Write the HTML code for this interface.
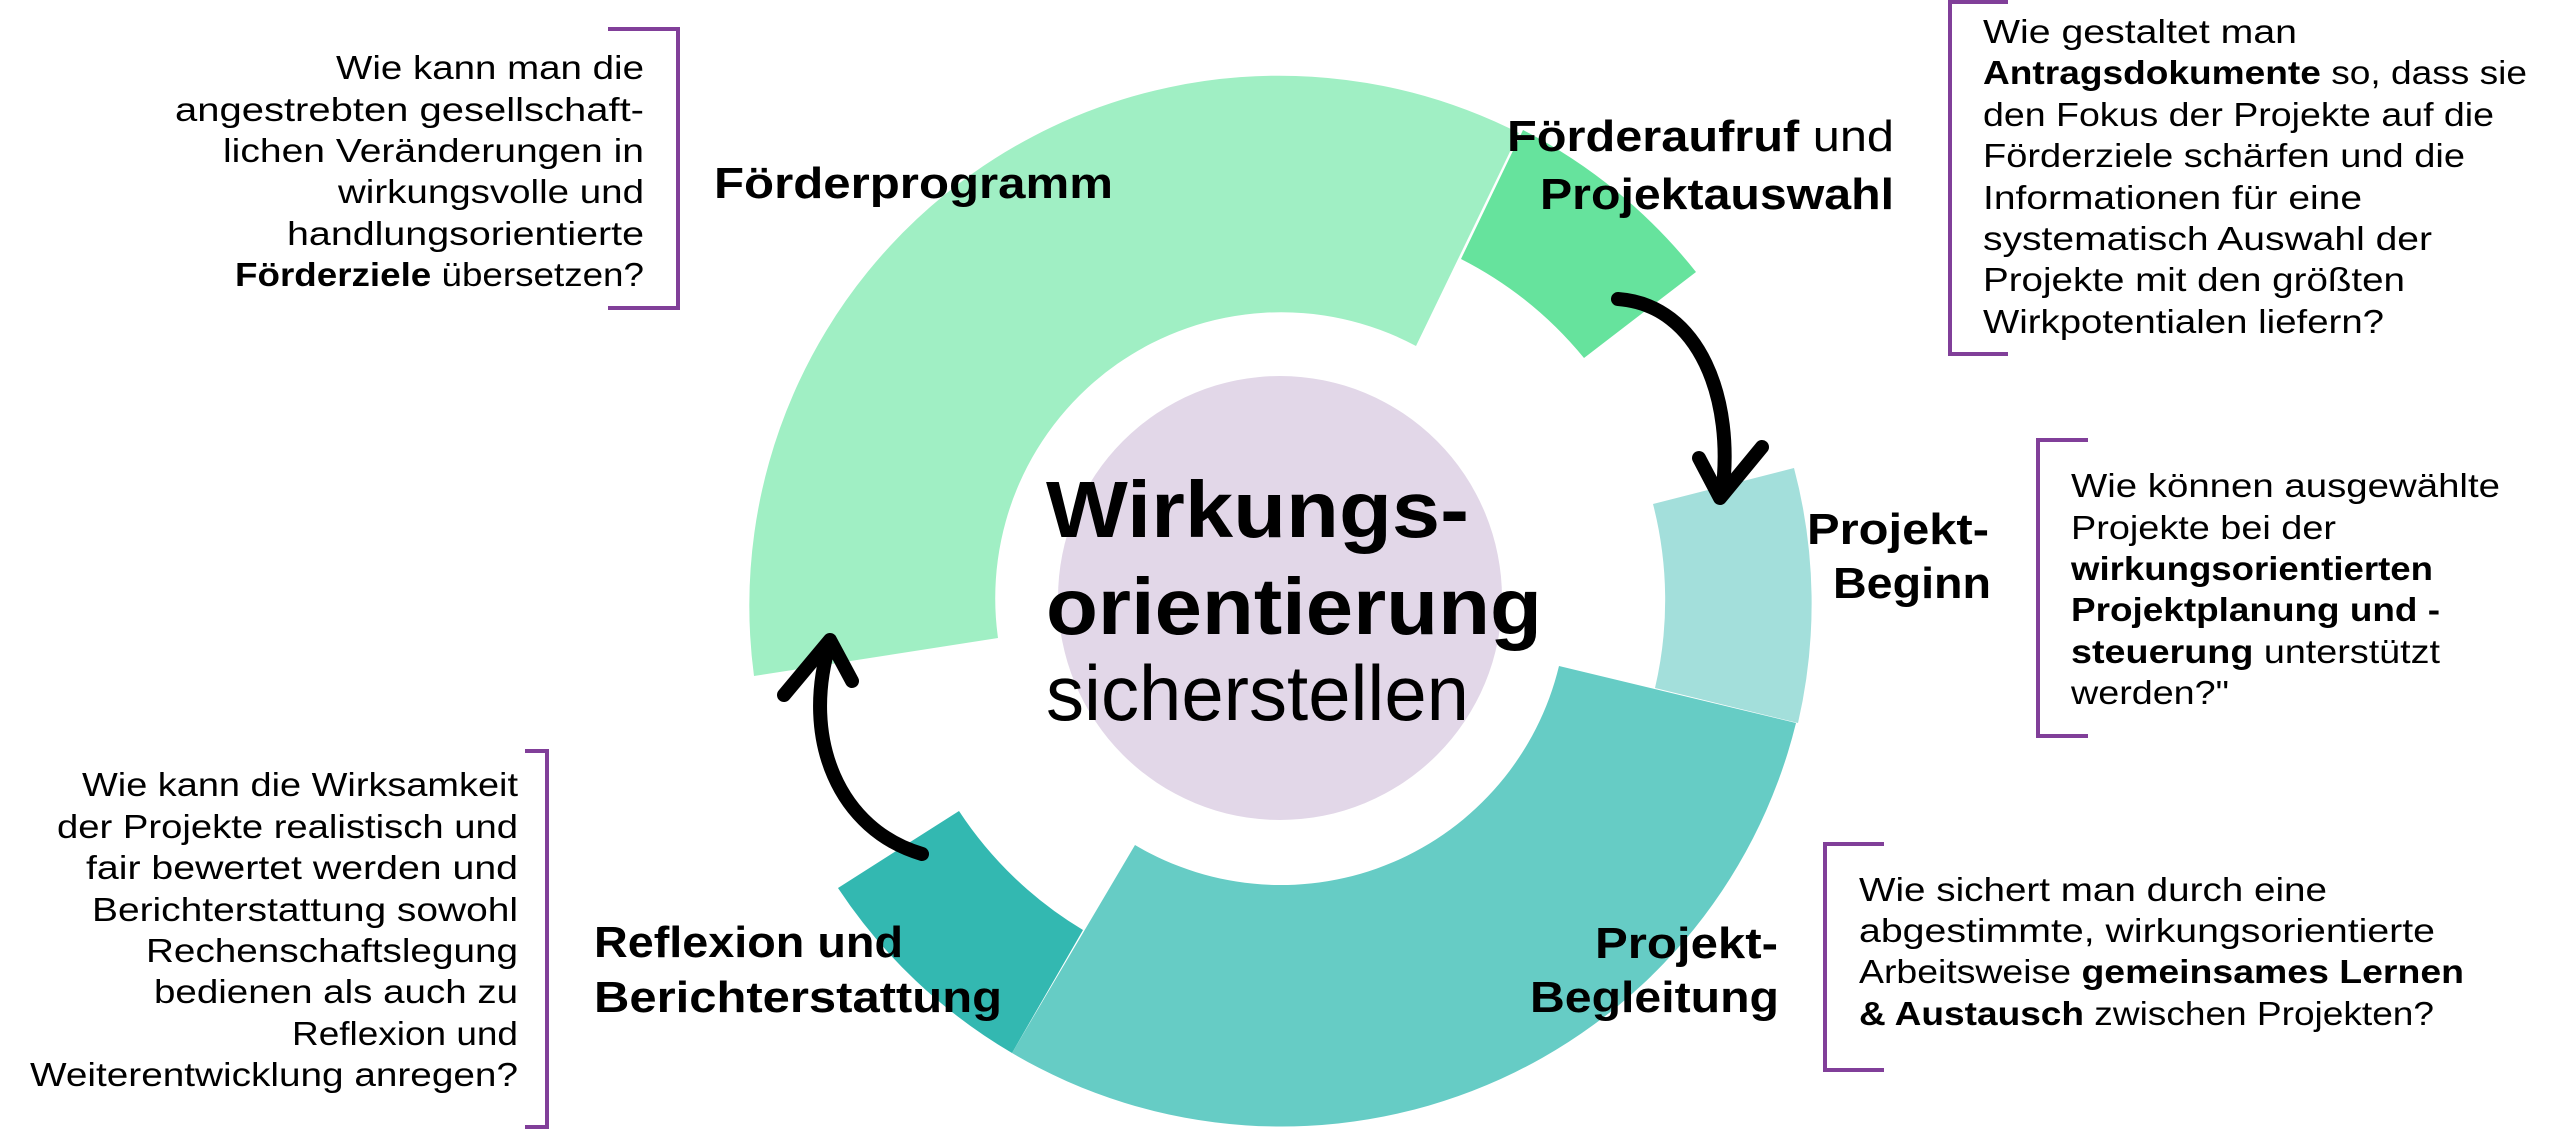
<!DOCTYPE html>
<html><head><meta charset="utf-8"><style>
html,body{margin:0;padding:0;background:#fff;}
svg{display:block;}
text{font-family:"Liberation Sans",sans-serif;fill:#000;}
.lb{font-weight:bold;font-size:44px;}
.q{font-size:33px;}
.b{font-weight:bold;}
</style></head><body>
<svg width="2560" height="1130" viewBox="0 0 2560 1130" xmlns="http://www.w3.org/2000/svg">
<rect width="2560" height="1130" fill="#fff"/>
<!-- ring segments -->
<path d="M754,676 A530,530 0 0 1 1519,133 L1416,346 A286,286 0 0 0 998,638 Z" fill="#A0EFC4"/>
<path d="M1523,130 A530,530 0 0 1 1696,272 L1584,358 A385,385 0 0 0 1461,259 Z" fill="#66E39D"/>
<path d="M1794,468 A530,530 0 0 1 1798,723 L1655,688 A385,385 0 0 0 1653,504 Z" fill="#A3DFDB"/>
<path d="M1796,723 L1559,666 A286,286 0 0 1 1135,845 L1012,1053 A530,530 0 0 0 1796,723 Z" fill="#66CCC5"/>
<path d="M1012,1053 A530,530 0 0 1 838,888 L959,811 A385,385 0 0 0 1083,930 Z" fill="#33B8B1"/>
<circle cx="1280" cy="598" r="222" fill="#E2D7E8"/>
<!-- arrows -->
<g fill="none" stroke="#000" stroke-width="14" stroke-linecap="round" stroke-linejoin="round">
<path d="M1618,299 C1700,305 1735,400 1722,495"/>
<polyline points="1699,458 1720,498 1762,447"/>
<path d="M922,854 C840,830 800,740 830,642"/>
<polyline points="784,695 830,640 852,681"/>
</g>
<!-- center text -->
<text x="1046" y="537" font-size="80" font-weight="bold" textLength="423" lengthAdjust="spacingAndGlyphs">Wirkungs-</text>
<text x="1046" y="634" font-size="80" font-weight="bold" textLength="496" lengthAdjust="spacingAndGlyphs">orientierung</text>
<text x="1046" y="720" font-size="78" textLength="423" lengthAdjust="spacingAndGlyphs">sicherstellen</text>
<!-- segment labels -->
<text class="lb" x="714" y="198" textLength="399" lengthAdjust="spacingAndGlyphs">Förderprogramm</text>
<text class="lb" x="1507" y="151" textLength="387" lengthAdjust="spacingAndGlyphs">Förderaufruf<tspan font-weight="normal"> und</tspan></text>
<text class="lb" x="1540" y="209" textLength="354" lengthAdjust="spacingAndGlyphs">Projektauswahl</text>
<text class="lb" x="1807" y="544" textLength="182" lengthAdjust="spacingAndGlyphs">Projekt-</text>
<text class="lb" x="1833" y="598" textLength="158" lengthAdjust="spacingAndGlyphs">Beginn</text>
<text class="lb" x="1595" y="958" textLength="183" lengthAdjust="spacingAndGlyphs">Projekt-</text>
<text class="lb" x="1530" y="1012" textLength="249" lengthAdjust="spacingAndGlyphs">Begleitung</text>
<text class="lb" x="594" y="957" textLength="309" lengthAdjust="spacingAndGlyphs">Reflexion und</text>
<text class="lb" x="594" y="1012" textLength="408" lengthAdjust="spacingAndGlyphs">Berichterstattung</text>
<!-- brackets -->
<g fill="none" stroke="#813F99" stroke-width="4">
<polyline points="608,29 678,29 678,308 608,308"/>
<polyline points="525,751 547,751 547,1127 525,1127"/>
<polyline points="2008,2 1950,2 1950,354 2008,354"/>
<polyline points="2088,440 2038,440 2038,736 2088,736"/>
<polyline points="1884,844 1825,844 1825,1070 1884,1070"/>
</g>
<!-- top-left question -->
<g class="q" lengthAdjust="spacingAndGlyphs">
<text class="q" x="336" y="79" textLength="308" lengthAdjust="spacingAndGlyphs">Wie kann man die</text>
<text class="q" x="175" y="121" textLength="469" lengthAdjust="spacingAndGlyphs">angestrebten gesellschaft-</text>
<text class="q" x="223" y="162" textLength="421" lengthAdjust="spacingAndGlyphs">lichen Veränderungen in</text>
<text class="q" x="338" y="203" textLength="306" lengthAdjust="spacingAndGlyphs">wirkungsvolle und</text>
<text class="q" x="287" y="245" textLength="357" lengthAdjust="spacingAndGlyphs">handlungsorientierte</text>
<text class="q" x="235" y="286" textLength="409" lengthAdjust="spacingAndGlyphs"><tspan class="b">Förderziele</tspan> übersetzen?</text>
</g>
<!-- bottom-left question -->
<text class="q" x="82" y="796" textLength="436" lengthAdjust="spacingAndGlyphs">Wie kann die Wirksamkeit</text>
<text class="q" x="57" y="838" textLength="461" lengthAdjust="spacingAndGlyphs">der Projekte realistisch und</text>
<text class="q" x="86" y="879" textLength="432" lengthAdjust="spacingAndGlyphs">fair bewertet werden und</text>
<text class="q" x="92" y="921" textLength="426" lengthAdjust="spacingAndGlyphs">Berichterstattung sowohl</text>
<text class="q" x="146" y="962" textLength="372" lengthAdjust="spacingAndGlyphs">Rechenschaftslegung</text>
<text class="q" x="154" y="1003" textLength="364" lengthAdjust="spacingAndGlyphs">bedienen als auch zu</text>
<text class="q" x="292" y="1045" textLength="226" lengthAdjust="spacingAndGlyphs">Reflexion und</text>
<text class="q" x="30" y="1086" textLength="488" lengthAdjust="spacingAndGlyphs">Weiterentwicklung anregen?</text>
<!-- top-right question -->
<text class="q" x="1983" y="43" textLength="314" lengthAdjust="spacingAndGlyphs">Wie gestaltet man</text>
<text class="q" x="1983" y="84" textLength="544" lengthAdjust="spacingAndGlyphs"><tspan class="b">Antragsdokumente</tspan> so, dass sie</text>
<text class="q" x="1983" y="126" textLength="511" lengthAdjust="spacingAndGlyphs">den Fokus der Projekte auf die</text>
<text class="q" x="1983" y="167" textLength="482" lengthAdjust="spacingAndGlyphs">Förderziele schärfen und die</text>
<text class="q" x="1983" y="209" textLength="379" lengthAdjust="spacingAndGlyphs">Informationen für eine</text>
<text class="q" x="1983" y="250" textLength="449" lengthAdjust="spacingAndGlyphs">systematisch Auswahl der</text>
<text class="q" x="1983" y="291" textLength="422" lengthAdjust="spacingAndGlyphs">Projekte mit den größten</text>
<text class="q" x="1983" y="333" textLength="401" lengthAdjust="spacingAndGlyphs">Wirkpotentialen liefern?</text>
<!-- middle-right question -->
<text class="q" x="2071" y="497" textLength="429" lengthAdjust="spacingAndGlyphs">Wie können ausgewählte</text>
<text class="q" x="2071" y="539" textLength="265" lengthAdjust="spacingAndGlyphs">Projekte bei der</text>
<text class="q b" x="2071" y="580" textLength="362" lengthAdjust="spacingAndGlyphs">wirkungsorientierten</text>
<text class="q b" x="2071" y="621" textLength="369" lengthAdjust="spacingAndGlyphs">Projektplanung und -</text>
<text class="q" x="2071" y="663" textLength="369" lengthAdjust="spacingAndGlyphs"><tspan class="b">steuerung</tspan> unterstützt</text>
<text class="q" x="2071" y="704" textLength="158" lengthAdjust="spacingAndGlyphs">werden?"</text>
<!-- bottom-right question -->
<text class="q" x="1859" y="901" textLength="468" lengthAdjust="spacingAndGlyphs">Wie sichert man durch eine</text>
<text class="q" x="1859" y="942" textLength="576" lengthAdjust="spacingAndGlyphs">abgestimmte, wirkungsorientierte</text>
<text class="q" x="1859" y="983" textLength="605" lengthAdjust="spacingAndGlyphs">Arbeitsweise <tspan class="b">gemeinsames Lernen</tspan></text>
<text class="q" x="1859" y="1025" textLength="575" lengthAdjust="spacingAndGlyphs"><tspan class="b">&amp; Austausch</tspan> zwischen Projekten?</text>
</svg>
</body></html>
